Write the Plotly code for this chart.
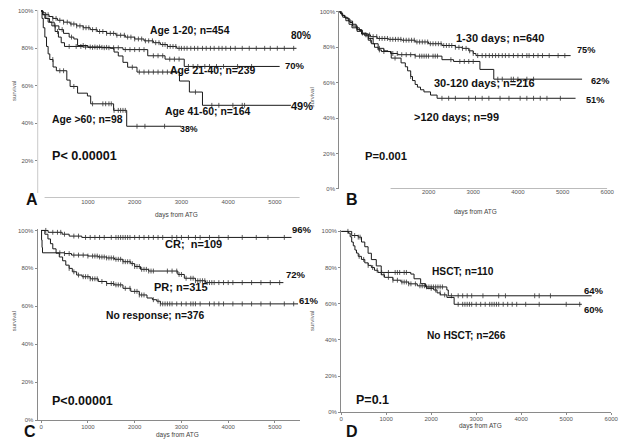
import numpy as np
import plotly.graph_objects as go

# page body has an 8px margin: the figure is sized/placed to compensate
OFF = 8
W, H = 625, 437

# ---------------- DATA ----------------
# Panel A (age groups)
a1_t = [0, 40, 100, 170, 250, 350, 480, 620, 760, 900, 1050, 1200, 1400, 1600, 1800, 2000, 2200, 2400, 2550, 2700, 2900]
a1_s = [100, 99, 98, 97, 96, 95, 94, 93, 92, 91, 90, 89, 88, 87, 86, 85, 84, 83, 82, 81, 80]
a1_end = 5460
a1_c = [150, 250, 320, 400, 480, 560, 640, 700, 760, 830, 900, 960, 1020, 1100, 1180, 1250, 1320, 1400, 1480, 1550,
        1620, 1700, 1780, 1850, 1920, 2000, 2080, 2150, 2230, 2300, 2380, 2450, 2520, 2600, 2650, 2700, 2760, 2820,
        2880, 2950, 3000, 3060, 3120, 3200, 3280, 3350, 3450, 3530, 3620, 3700, 3800, 3870, 3950, 4050, 4150, 4300,
        4450, 4600, 4780, 4900, 5050, 5200, 5400]

a2_t = [0, 30, 80, 150, 230, 300, 370, 430, 500, 900, 1300, 1750, 2280, 2650, 3060]
a2_s = [100, 98, 96, 94, 92, 89, 86, 83, 81, 80.7, 80.3, 79.3, 76, 74.2, 70.3]
a2_end = 5100
a2_c = [350, 600, 750, 850, 950, 1050, 1150, 1250, 1350, 1450, 1550, 1650, 1800, 1900, 2000, 2100, 2200, 2400, 2500,
        2600, 2750, 2850, 2950, 3150, 3250, 3350, 3500, 3600, 3750, 3900, 4200, 4500]

a3_t = [0, 40, 100, 180, 280, 380, 480, 600, 700, 780, 1000, 1480, 1560, 1650, 1750, 1850, 2050, 2958, 3170, 3450]
a3_s = [100, 98, 96, 94, 92, 90, 88, 86, 85, 81.5, 80.5, 80, 78, 75.9, 72.5, 69.9, 67.3, 62.5, 56.6, 49.5]
a3_end = 5340
a3_c = [300, 450, 650, 900, 1100, 1200, 1300, 1400, 1950, 2100, 2200, 2300, 2400, 2500, 2600, 2700, 2800,
        3300, 3650, 3800, 4100, 4300, 4350]

a4_t = [0, 20, 46, 80, 116, 150, 186, 256, 326, 550, 620, 780, 990, 1060, 1550, 1830]
a4_s = [100, 96, 91, 86, 81, 77, 74, 70, 68, 63, 59.6, 56, 54.5, 50.3, 46.8, 38.3]
a4_end = 2993
a4_c = [250, 400, 480, 700, 1100, 1320, 1380, 1450, 1500, 1560, 1650, 1700, 1750, 1800, 2050, 2220, 2640]

# Panel B (time to ATG)
b1_t = [0, 30, 70, 120, 180, 240, 300, 380, 450, 520, 600, 700, 850, 1100, 1400, 1700, 2000, 2300, 2600, 2750, 2900, 3000, 3060]
b1_s = [100, 99, 98, 97, 96, 94, 93, 91, 89.5, 88, 87, 86, 85, 84.5, 84, 83, 82, 81, 80, 79.4, 78, 76.5, 75.3]
b1_end = 5180
b1_c = [400, 520, 600, 680, 760, 840, 900, 960, 1020, 1080, 1140, 1200, 1260, 1320, 1380, 1440, 1500, 1560, 1620,
        1680, 1740, 1800, 1860, 1920, 1980, 2040, 2100, 2160, 2220, 2280, 2340, 2400, 2460, 2520, 2600, 2680, 2760,
        2840, 2920, 3000, 3100, 3200, 3280, 3360, 3430, 3500, 3570, 3650, 3720, 3800, 3900, 4000, 4100, 4200, 4250,
        4350, 4450, 4550, 4700, 4900, 5050]

b2_t = [0, 40, 80, 150, 220, 286, 400, 500, 571, 650, 720, 791, 870, 945, 1150, 1311, 1700, 2300, 2560, 3150, 3460]
b2_s = [100, 99, 97, 95, 93, 91, 89, 87.5, 86.5, 84, 82, 80, 78.5, 77.6, 76.5, 75.8, 75, 73, 72, 67.5, 62]
b2_end = 5436
b2_c = [700, 900, 1000, 1200, 1300, 1400, 1500, 1600, 1700, 1800, 1850, 1900, 1950, 2000, 2100, 2150, 2200, 2500,
        2700, 2800, 2900, 3000, 3550, 3650, 3850, 3900, 4000, 4200, 4350]

b3_t = [0, 60, 130, 213, 300, 400, 505, 652, 760, 872, 1000, 1092, 1165, 1385, 1480, 1531, 1600, 1641, 1700, 1751,
        1820, 1897, 2044, 2191]
b3_s = [100, 98, 96.5, 94.8, 92, 90, 87.6, 84.9, 82, 79.4, 78, 77.6, 73.9, 71.2, 69, 66.7, 63.5, 61.2, 59, 57.5,
        56, 54.8, 53, 51.2]
b3_end = 5290
b3_c = [900, 1250, 1600, 2300, 2450, 2600, 2900, 3050, 3200, 3350, 3600, 3800, 4050, 4200, 4350, 4500, 4650, 4950]

# Panel C (response)
c1_t = [0, 150, 450, 600, 870]
c1_s = [100, 99, 98, 97, 96.3]
c1_end = 5354
c1_c = [100, 250, 350, 420, 500, 700, 800, 950, 1050, 1150, 1250, 1350, 1500, 1600, 1650, 1700, 1750, 1800, 1850,
        1900, 2000, 2100, 2200, 2300, 2400, 2500, 2600, 2800, 2900, 3000, 3150, 3300, 3400, 3600, 3800, 4000, 4300,
        4600, 4850, 5200]

c2_t = [0, 10, 20, 30, 500, 650, 1000, 1222, 1400, 1569, 1750, 1917, 2000, 2125, 2300, 2923, 3062, 3300, 3514]
c2_s = [100, 95, 91, 88.2, 87.8, 87, 86.5, 86, 85.5, 84.8, 83.5, 82.5, 81, 79.5, 78.6, 76.8, 74.8, 73.5, 72.5]
c2_end = 5180
c2_c = [400, 500, 600, 700, 800, 900, 1000, 1100, 1150, 1200, 1250, 1300, 1350, 1400, 1450, 1500, 1550, 1600, 1650,
        1700, 1750, 1800, 1850, 1900, 1950, 2000, 2050, 2100, 2150, 2200, 2250, 2300, 2350, 2400, 2700, 2800, 2900,
        2950, 3000, 3100, 3200, 3250, 3300, 3350, 3400, 3450, 3500, 3550, 3600, 3650, 3700, 3800, 3900, 4000, 4100,
        4300, 4500, 4700, 4900, 5100]

c3_t = [0, 42, 80, 146, 200, 250, 320, 389, 460, 528, 600, 667, 760, 875, 1050, 1222, 1400, 1563, 1750, 1917,
        2100, 2264, 2380, 2472, 2550]
c3_s = [100, 100, 98, 95.5, 93, 90.3, 88, 86, 84, 81.7, 80, 78.2, 76.5, 75.6, 74.5, 73.1, 72, 71.3, 69.5, 67.9,
        66, 64.4, 63.5, 62.7, 61.3]
c3_end = 5493
c3_c = [600, 700, 800, 900, 950, 1000, 1050, 1100, 1150, 1200, 1300, 1400, 1500, 1550, 1600, 1650, 1700, 1800,
        1900, 2000, 2050, 2100, 2150, 2200, 2400, 2500, 2550, 2600, 2650, 2700, 2750, 2800, 2900, 3000, 3100, 3200,
        3250, 3300, 3400, 3600, 3700, 3800, 3900, 4100, 4300, 4500, 4700, 4900, 5200, 5400]

# Panel D (HSCT)
d1_t = [0, 234, 379, 452, 525, 598, 671, 780, 890, 1547, 1619, 1766, 1875, 2348, 2380]
d1_s = [100, 97.7, 96.8, 94.1, 91.5, 87.9, 84.4, 80.9, 77.3, 76.4, 73.8, 71.1, 69.3, 67.6, 64.4]
d1_end = 5565
d1_c = [150, 300, 380, 420, 900, 1050, 1200, 1250, 1300, 1400, 1450, 1900, 1950, 2000, 2050, 2100, 2150, 2200,
        2250, 2450, 2600, 2700, 2800, 2900, 3150, 3500, 3650, 4300, 4400, 4650]

d2_t = [0, 160, 200, 234, 270, 306, 340, 379, 450, 525, 600, 671, 740, 817, 890, 963, 1150, 1328, 1500, 1692,
        1900, 2057, 2130, 2203, 2350, 2510]
d2_s = [100, 99, 97, 94.1, 92, 89.7, 88, 86.2, 84.5, 82.6, 81.2, 80, 78.5, 77.3, 76, 74.6, 73, 72, 71, 69.9,
        68.5, 67.6, 66, 64.9, 63.5, 59.7]
d2_end = 5346
d2_c = [400, 500, 600, 700, 800, 950, 1050, 1150, 1250, 1350, 1400, 1450, 1500, 1550, 1650, 1750, 1800, 1850,
        2000, 2100, 2200, 2300, 2600, 2700, 2750, 2800, 2850, 2900, 3000, 3100, 3200, 3300, 3350, 3400, 3450, 3500,
        3600, 3700, 3800, 3900, 4100, 4400, 5000, 5300]

y_ticks = [0, 20, 40, 60, 80, 100]

# ---------------- FIGURE ----------------
fig = go.Figure()
LINE = '#1a1a1a'
AX = '#8a8a8a'
TK = '#555555'


def px_x(p):
    return (p - OFF) / W


def px_y(p):
    return min(1.0, 1 - (p - OFF) / H)


def add_curve(t, s, end, cens, xa, ya):
    tt = list(t) + [end]
    ss = list(s) + [s[-1]]
    fig.add_trace(go.Scatter(x=tt, y=ss, mode='lines', line=dict(color=LINE, width=1, shape='hv'),
                             xaxis=xa, yaxis=ya, showlegend=False, hoverinfo='skip', cliponaxis=False))
    ta = np.array(t)
    sa = np.array(s)
    c = np.array(cens)
    idx = np.searchsorted(ta, c, side='right') - 1
    fig.add_trace(go.Scatter(x=c, y=sa[idx], mode='markers',
                             marker=dict(symbol='line-ns', size=3.5, line=dict(width=0.8, color='#333')),
                             xaxis=xa, yaxis=ya, showlegend=False, hoverinfo='skip', cliponaxis=False))


add_curve(a1_t, a1_s, a1_end, a1_c, 'x', 'y')
add_curve(a2_t, a2_s, a2_end, a2_c, 'x', 'y')
add_curve(a3_t, a3_s, a3_end, a3_c, 'x', 'y')
add_curve(a4_t, a4_s, a4_end, a4_c, 'x', 'y')
add_curve(b1_t, b1_s, b1_end, b1_c, 'x2', 'y2')
add_curve(b2_t, b2_s, b2_end, b2_c, 'x2', 'y2')
add_curve(b3_t, b3_s, b3_end, b3_c, 'x2', 'y2')
add_curve(c1_t, c1_s, c1_end, c1_c, 'x3', 'y3')
add_curve(c2_t, c2_s, c2_end, c2_c, 'x3', 'y3')
add_curve(c3_t, c3_s, c3_end, c3_c, 'x3', 'y3')
add_curve(d1_t, d1_s, d1_end, d1_c, 'x4', 'y4')
add_curve(d2_t, d2_s, d2_end, d2_c, 'x4', 'y4')

tickfont = dict(family='Liberation Sans, Arial, sans-serif', size=6, color=TK)


def xax(dom, rng, ticks, anchor, standoff, showline=True):
    return dict(domain=[px_x(dom[0]), px_x(dom[1])], range=rng, anchor=anchor,
                tickvals=ticks, ticktext=[str(v) for v in ticks], tickfont=tickfont,
                showgrid=False, zeroline=False, showline=showline, linecolor=AX, linewidth=1,
                ticks='outside' if showline else '', ticklen=2, tickcolor=AX,
                ticklabelstandoff=standoff)


def yax(dom, ticks, anchor, showline=True):
    return dict(domain=[px_y(dom[1]), px_y(dom[0])], range=[0, 100.5], anchor=anchor,
                tickvals=ticks, ticktext=[f'{v}%' for v in ticks], tickfont=tickfont,
                showgrid=False, zeroline=False, showline=showline, linecolor=AX, linewidth=1,
                ticks='outside', ticklen=2, tickcolor=AX)


fig.update_layout(
    width=W, height=H, margin=dict(l=0, r=0, t=0, b=0),
    paper_bgcolor='white', plot_bgcolor='white',
    xaxis=xax((36, 302), [-75, 5530], [1000, 2000, 3000, 4000, 5000], 'y', -1, showline=False),
    yaxis=yax((8, 198), [20, 40, 60, 80, 100], 'x', showline=False),
    xaxis2=xax((342, 614), [0, 6000], [2000, 3000, 4000, 5000, 6000], 'y2', -2, showline=False),
    yaxis2=yax((9, 189), y_ticks, 'x2'),
    xaxis3=xax((36, 302), [-75, 5530], [0, 1000, 2000, 3000, 4000, 5000], 'y3', -1),
    yaxis3=yax((230, 423), y_ticks, 'x3'),
    xaxis4=xax((344, 618), [0, 6000], [0, 1000, 2000, 3000, 4000, 5000, 6000], 'y4', -2),
    yaxis4=yax((231, 415), y_ticks, 'x4'),
)

# separate axis lines of panel A (they do not meet) and partial x axis of panel B
fig.add_shape(type='line', xref='x', yref='y', x0=74, x1=5530, y0=0, y1=0, line=dict(color=AX, width=1))
fig.add_shape(type='line', xref='x', yref='y', x0=-75, x1=-75, y0=2.6, y1=100.5, line=dict(color=AX, width=1))
fig.add_shape(type='line', xref='x2', yref='y2', x0=1150, x1=6000, y0=0, y1=0, line=dict(color=AX, width=1))

BOLD = 'Liberation Sans, Arial, sans-serif'


def label(text, x, y, size, bold=True, color='#111', angle=0, family=BOLD):
    fig.add_annotation(text=f'<b>{text}</b>' if bold else text, x=px_x(x), y=px_y(y), xref='paper', yref='paper',
                       showarrow=False, textangle=angle, xanchor='center', yanchor='middle',
                       font=dict(family=family, size=size, color=color))


# Panel A
label('Age 1-20; n=454', 191, 29, 10.4)
label('80%', 303, 34, 10)
label('Age 21-40; n=239', 213, 69, 10.4)
label('70%', 297, 64, 9.5)
label('49%', 304, 105, 11)
label('Age 41-60; n=164', 208, 111, 10.4)
label('Age >60; n=98', 87, 119, 10.4)
label('38%', 190, 128, 8.8)
label('P< 0.00001', 84, 156, 12.6)
label('A', 30, 200, 16)
# Panel B
label('1-30 days; n=640', 505, 36, 11)
label('75%', 592, 48, 9.2)
label('30-120 days; n=216', 489, 82, 11)
label('62%', 607, 80, 9.2)
label('51%', 602, 99, 9.2)
label('>120 days; n=99', 461, 116, 11)
label('P=0.001', 390, 156, 11.2)
label('B', 355, 200, 16)
# Panel C
label('96%', 304, 230, 9.5)
label('CR;  n=109', 194, 245, 11)
label('72%', 298, 276, 9.5)
label('PR; n=315', 182, 288, 11)
label('61%', 311, 302, 9.5)
label('No response; n=376', 155, 317, 10.3)
label('P<0.00001', 82, 404, 12.5)
label('C', 28, 434, 16)
# Panel D
label('HSCT; n=110', 468, 273, 10.2)
label('64%', 601, 292, 9.5)
label('60%', 601, 311, 9.5)
label('No HSCT; n=266', 471, 337, 10.2)
label('P=0.1', 376, 403, 12.5)
label('D', 355, 434, 16)

# axis titles
for (x, y) in [(177, 215), (480, 212), (178, 438), (485, 429)]:
    label('days from ATG', x, y, 6.5, bold=False, color='#444')
for (x, y) in [(12, 90), (314, 97), (12, 323), (315, 323)]:
    label('survival', x, y, 6, bold=False, color='#555', angle=-90)

fig.write_html('out.html')
